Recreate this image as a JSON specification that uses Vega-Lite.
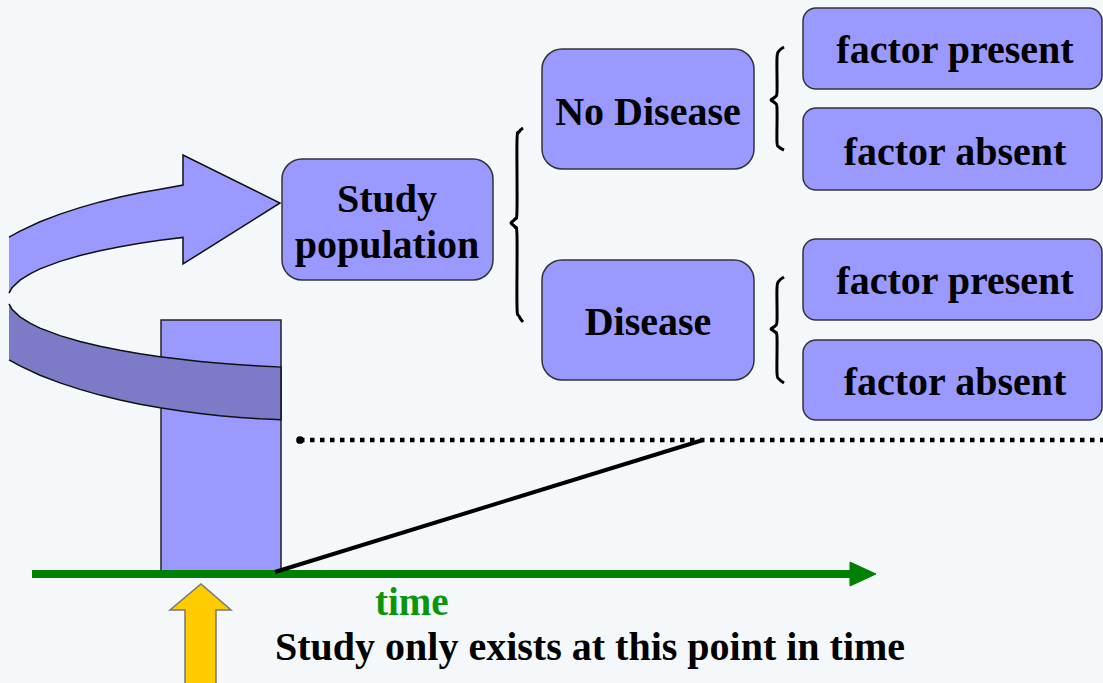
{
  "$schema": "https://vega.github.io/schema/vega-lite/v6.json",
  "width": 1103,
  "height": 683,
  "autosize": {"type": "fit", "contains": "padding"},
  "padding": 0,
  "background": "#f5f8fa",
  "config": {"view": {"stroke": null}},
  "datasets": {
    "poly": [
      {"id": "up", "i": 0, "x": 9, "y": 237.1},
      {"id": "up", "i": 1, "x": 20, "y": 231.1},
      {"id": "up", "i": 2, "x": 40, "y": 221.8},
      {"id": "up", "i": 3, "x": 60, "y": 214.1},
      {"id": "up", "i": 4, "x": 80, "y": 207.6},
      {"id": "up", "i": 5, "x": 100, "y": 201.9},
      {"id": "up", "i": 6, "x": 120, "y": 197.1},
      {"id": "up", "i": 7, "x": 140, "y": 192.8},
      {"id": "up", "i": 8, "x": 160, "y": 189.2},
      {"id": "up", "i": 9, "x": 183, "y": 185},
      {"id": "up", "i": 10, "x": 183, "y": 155},
      {"id": "up", "i": 11, "x": 280, "y": 203},
      {"id": "up", "i": 12, "x": 183, "y": 264},
      {"id": "up", "i": 13, "x": 183, "y": 237.4},
      {"id": "up", "i": 14, "x": 160, "y": 240.3},
      {"id": "up", "i": 15, "x": 140, "y": 243.2},
      {"id": "up", "i": 16, "x": 120, "y": 246.7},
      {"id": "up", "i": 17, "x": 100, "y": 250.7},
      {"id": "up", "i": 18, "x": 80, "y": 255.5},
      {"id": "up", "i": 19, "x": 60, "y": 261.4},
      {"id": "up", "i": 20, "x": 40, "y": 268.9},
      {"id": "up", "i": 21, "x": 30, "y": 273.8},
      {"id": "up", "i": 22, "x": 20, "y": 280.1},
      {"id": "up", "i": 23, "x": 12, "y": 287.8},
      {"id": "up", "i": 24, "x": 9, "y": 293.2},

      {"id": "low", "i": 0, "x": 9, "y": 303.8},
      {"id": "low", "i": 1, "x": 12, "y": 309.2},
      {"id": "low", "i": 2, "x": 20, "y": 316.9},
      {"id": "low", "i": 3, "x": 30, "y": 323.2},
      {"id": "low", "i": 4, "x": 40, "y": 328.1},
      {"id": "low", "i": 5, "x": 60, "y": 335.6},
      {"id": "low", "i": 6, "x": 80, "y": 341.5},
      {"id": "low", "i": 7, "x": 100, "y": 346.3},
      {"id": "low", "i": 8, "x": 120, "y": 350.3},
      {"id": "low", "i": 9, "x": 140, "y": 353.8},
      {"id": "low", "i": 10, "x": 160, "y": 356.7},
      {"id": "low", "i": 11, "x": 183, "y": 359.6},
      {"id": "low", "i": 12, "x": 200, "y": 361.4},
      {"id": "low", "i": 13, "x": 220, "y": 363.2},
      {"id": "low", "i": 14, "x": 240, "y": 364.8},
      {"id": "low", "i": 15, "x": 260, "y": 366},
      {"id": "low", "i": 16, "x": 281, "y": 367.1},
      {"id": "low", "i": 17, "x": 281, "y": 419.8},
      {"id": "low", "i": 18, "x": 260, "y": 418.8},
      {"id": "low", "i": 19, "x": 240, "y": 417.4},
      {"id": "low", "i": 20, "x": 220, "y": 415.7},
      {"id": "low", "i": 21, "x": 200, "y": 413.5},
      {"id": "low", "i": 22, "x": 183, "y": 411.3},
      {"id": "low", "i": 23, "x": 160, "y": 407.8},
      {"id": "low", "i": 24, "x": 140, "y": 404.2},
      {"id": "low", "i": 25, "x": 120, "y": 399.9},
      {"id": "low", "i": 26, "x": 100, "y": 395.1},
      {"id": "low", "i": 27, "x": 80, "y": 389.4},
      {"id": "low", "i": 28, "x": 60, "y": 382.9},
      {"id": "low", "i": 29, "x": 40, "y": 375.2},
      {"id": "low", "i": 30, "x": 20, "y": 365.9},
      {"id": "low", "i": 31, "x": 9, "y": 359.9},

      {"id": "yel", "i": 0, "x": 185, "y": 690},
      {"id": "yel", "i": 1, "x": 185, "y": 610},
      {"id": "yel", "i": 2, "x": 170, "y": 610},
      {"id": "yel", "i": 3, "x": 201, "y": 584},
      {"id": "yel", "i": 4, "x": 231, "y": 610},
      {"id": "yel", "i": 5, "x": 216, "y": 610},
      {"id": "yel", "i": 6, "x": 216, "y": 690},

      {"id": "ghead", "i": 0, "x": 850, "y": 562},
      {"id": "ghead", "i": 1, "x": 876, "y": 574},
      {"id": "ghead", "i": 2, "x": 850, "y": 586},
      {"id": "ghead", "i": 3, "x": 850, "y": 562}
    ],
    "boxes": [
      {"id": "bar", "x": 161, "x2": 281, "y": 320, "y2": 573},
      {"id": "study", "x": 282, "x2": 493, "y": 159, "y2": 280},
      {"id": "nodis", "x": 542, "x2": 754, "y": 49, "y2": 169},
      {"id": "dis", "x": 542, "x2": 754, "y": 260, "y2": 380},
      {"id": "fp1", "x": 803, "x2": 1102, "y": 8, "y2": 89},
      {"id": "fa1", "x": 803, "x2": 1102, "y": 108, "y2": 190},
      {"id": "fp2", "x": 803, "x2": 1102, "y": 239, "y2": 320},
      {"id": "fa2", "x": 803, "x2": 1102, "y": 340, "y2": 420}
    ],
    "braces": [
      {"id": "big", "i": 0, "x": 523, "y": 128},
      {"id": "big", "i": 1, "x": 519, "y": 132},
      {"id": "big", "i": 2, "x": 517, "y": 141},
      {"id": "big", "i": 3, "x": 517, "y": 210},
      {"id": "big", "i": 4, "x": 515, "y": 219},
      {"id": "big", "i": 5, "x": 511, "y": 223},
      {"id": "big", "i": 6, "x": 515, "y": 227},
      {"id": "big", "i": 7, "x": 517, "y": 236},
      {"id": "big", "i": 8, "x": 517, "y": 306},
      {"id": "big", "i": 9, "x": 519, "y": 316},
      {"id": "big", "i": 10, "x": 523, "y": 322},
      {"id": "s1", "i": 0, "x": 784, "y": 47},
      {"id": "s1", "i": 1, "x": 779, "y": 51},
      {"id": "s1", "i": 2, "x": 777, "y": 58},
      {"id": "s1", "i": 3, "x": 777, "y": 92},
      {"id": "s1", "i": 4, "x": 775, "y": 97},
      {"id": "s1", "i": 5, "x": 771, "y": 100},
      {"id": "s1", "i": 6, "x": 775, "y": 103},
      {"id": "s1", "i": 7, "x": 777, "y": 108},
      {"id": "s1", "i": 8, "x": 777, "y": 142},
      {"id": "s1", "i": 9, "x": 779, "y": 147},
      {"id": "s1", "i": 10, "x": 784, "y": 150},
      {"id": "s2", "i": 0, "x": 784, "y": 277},
      {"id": "s2", "i": 1, "x": 779, "y": 281},
      {"id": "s2", "i": 2, "x": 777, "y": 288},
      {"id": "s2", "i": 3, "x": 777, "y": 321},
      {"id": "s2", "i": 4, "x": 775, "y": 326},
      {"id": "s2", "i": 5, "x": 771, "y": 329},
      {"id": "s2", "i": 6, "x": 775, "y": 332},
      {"id": "s2", "i": 7, "x": 777, "y": 337},
      {"id": "s2", "i": 8, "x": 777, "y": 373},
      {"id": "s2", "i": 9, "x": 779, "y": 379},
      {"id": "s2", "i": 10, "x": 784, "y": 383}
    ],
    "segs": [
      {"id": "green", "i": 0, "x": 32, "y": 574},
      {"id": "green", "i": 1, "x": 852, "y": 574},
      {"id": "black", "i": 0, "x": 275, "y": 572},
      {"id": "black", "i": 1, "x": 703, "y": 440},
      {"id": "dots", "i": 0, "x": 300, "y": 440},
      {"id": "dots", "i": 1, "x": 1110, "y": 440}
    ],
    "labels": [
      {"id": "box", "text": "Study", "x": 387, "y": 212},
      {"id": "box", "text": "population", "x": 387, "y": 258},
      {"id": "box", "text": "No Disease", "x": 648, "y": 125},
      {"id": "box", "text": "Disease", "x": 648, "y": 335},
      {"id": "box", "text": "factor present", "x": 955, "y": 63},
      {"id": "box", "text": "factor absent", "x": 955, "y": 165},
      {"id": "box", "text": "factor present", "x": 955, "y": 294},
      {"id": "box", "text": "factor absent", "x": 955, "y": 395},
      {"id": "note", "text": "Study only exists at this point in time", "x": 275, "y": 660},
      {"id": "time", "text": "time", "x": 375, "y": 615}
    ],
    "dot": [{"x": 300, "y": 440}]
  },
  "encoding": {
    "x": {"field": "x", "type": "quantitative", "scale": {"domain": [0, 1103], "nice": false, "zero": false}, "axis": null},
    "y": {"field": "y", "type": "quantitative", "scale": {"domain": [0, 683], "nice": false, "zero": false, "reverse": true}, "axis": null}
  },
  "layer": [
    {
      "data": {"name": "poly"},
      "transform": [{"filter": "datum.id == 'yel'"}],
      "mark": {"type": "line", "fill": "#ffcc00", "stroke": "#777777", "strokeWidth": 1.5, "interpolate": "linear", "clip": true},
      "encoding": {"order": {"field": "i", "type": "quantitative"}}
    },
    {
      "data": {"name": "boxes"},
      "transform": [{"filter": "datum.id == 'bar'"}],
      "mark": {"type": "rect", "fill": "#9999ff", "stroke": "#222222", "strokeWidth": 1.5, "clip": true},
      "encoding": {"x2": {"field": "x2"}, "y2": {"field": "y2"}}
    },
    {
      "data": {"name": "poly"},
      "transform": [{"filter": "datum.id == 'low'"}],
      "mark": {"type": "line", "fill": "#7b7bc8", "stroke": "#111111", "strokeWidth": 1.5, "interpolate": "linear", "clip": true},
      "encoding": {"order": {"field": "i", "type": "quantitative"}}
    },
    {
      "data": {"name": "poly"},
      "transform": [{"filter": "datum.id == 'up'"}],
      "mark": {"type": "line", "fill": "#9999ff", "stroke": "#111111", "strokeWidth": 1.5, "interpolate": "linear", "clip": true},
      "encoding": {"order": {"field": "i", "type": "quantitative"}}
    },
    {
      "data": {"name": "boxes"},
      "transform": [{"filter": "datum.id == 'study' || datum.id == 'nodis' || datum.id == 'dis'"}],
      "mark": {"type": "rect", "fill": "#9999ff", "stroke": "#333333", "strokeWidth": 1.5, "cornerRadius": 20, "clip": true},
      "encoding": {"x2": {"field": "x2"}, "y2": {"field": "y2"}}
    },
    {
      "data": {"name": "boxes"},
      "transform": [{"filter": "indexof(datum.id, 'f') == 0"}],
      "mark": {"type": "rect", "fill": "#9999ff", "stroke": "#333333", "strokeWidth": 1.5, "cornerRadius": 13, "clip": true},
      "encoding": {"x2": {"field": "x2"}, "y2": {"field": "y2"}}
    },
    {
      "data": {"name": "braces"},
      "mark": {"type": "line", "stroke": "#000000", "strokeWidth": 3, "interpolate": "cardinal", "clip": true},
      "encoding": {"detail": {"field": "id"}, "order": {"field": "i", "type": "quantitative"}}
    },
    {
      "data": {"name": "segs"},
      "transform": [{"filter": "datum.id == 'green'"}],
      "mark": {"type": "line", "stroke": "#008000", "strokeWidth": 8, "strokeCap": "butt", "clip": true},
      "encoding": {"order": {"field": "i", "type": "quantitative"}}
    },
    {
      "data": {"name": "poly"},
      "transform": [{"filter": "datum.id == 'ghead'"}],
      "mark": {"type": "line", "fill": "#008000", "stroke": "#008000", "strokeWidth": 1, "interpolate": "linear", "clip": true},
      "encoding": {"order": {"field": "i", "type": "quantitative"}}
    },
    {
      "data": {"name": "segs"},
      "transform": [{"filter": "datum.id == 'black'"}],
      "mark": {"type": "line", "stroke": "#000000", "strokeWidth": 4, "clip": true},
      "encoding": {"order": {"field": "i", "type": "quantitative"}}
    },
    {
      "data": {"name": "segs"},
      "transform": [{"filter": "datum.id == 'dots'"}],
      "mark": {"type": "line", "stroke": "#000000", "strokeWidth": 4.5, "strokeDash": [4.5, 5.5], "strokeCap": "butt", "clip": true},
      "encoding": {"order": {"field": "i", "type": "quantitative"}}
    },
    {
      "data": {"name": "dot"},
      "mark": {"type": "circle", "color": "#000000", "size": 60, "opacity": 1, "clip": true}
    },
    {
      "data": {"name": "labels"},
      "transform": [{"filter": "datum.id == 'box'"}],
      "mark": {"type": "text", "font": "Liberation Serif", "fontWeight": "bold", "fontSize": 40, "align": "center", "baseline": "alphabetic", "color": "#000000", "clip": true},
      "encoding": {"text": {"field": "text"}}
    },
    {
      "data": {"name": "labels"},
      "transform": [{"filter": "datum.id == 'note'"}],
      "mark": {"type": "text", "font": "Liberation Serif", "fontWeight": "bold", "fontSize": 40, "align": "left", "baseline": "alphabetic", "color": "#000000", "clip": true},
      "encoding": {"text": {"field": "text"}}
    },
    {
      "data": {"name": "labels"},
      "transform": [{"filter": "datum.id == 'time'"}],
      "mark": {"type": "text", "font": "Liberation Serif", "fontWeight": "bold", "fontSize": 39, "align": "left", "baseline": "alphabetic", "color": "#0a960a", "clip": true},
      "encoding": {"text": {"field": "text"}}
    }
  ]
}
